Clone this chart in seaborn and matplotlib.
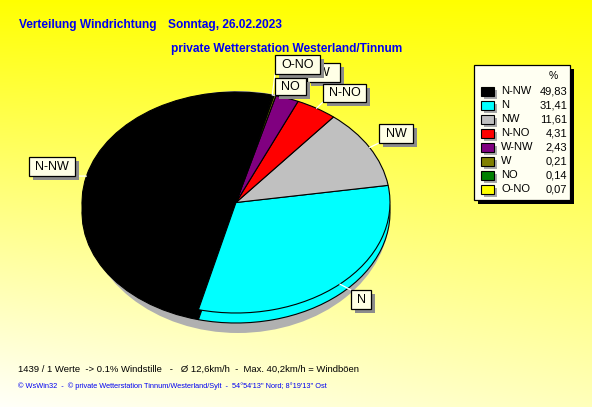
import numpy as np
import matplotlib
matplotlib.use("Agg")
import matplotlib.pyplot as plt
import seaborn as sns
from matplotlib import font_manager
from matplotlib.patches import Rectangle, Ellipse

# ---------------- data ----------------
directions = ["N-NW", "N", "NW", "N-NO", "W-NW", "W", "NO", "O-NO"]
shares = [49.83, 31.41, 11.61, 4.31, 2.43, 0.21, 0.14, 0.07]
share_labels = ["49,83", "31,41", "11,61", "4,31", "2,43", "0,21", "0,14", "0,07"]
colors = ["#000000", "#00FFFF", "#C0C0C0", "#FF0000", "#800080", "#808000", "#008000", "#FFFF00"]
title_left = "Verteilung Windrichtung"
title_date = "Sonntag, 26.02.2023"
subtitle = "private Wetterstation Westerland/Tinnum"
legend_title = "%"
info_line = "1439 / 1 Werte  -> 0.1% Windstille   -   Ø 12,6km/h  -  Max. 40,2km/h = Windböen"
credit_line = "© WsWin32  -  © private Wetterstation Tinnum/Westerland/Sylt  -  54°54'13'' Nord; 8°19'13'' Ost"

sns.set_theme(style="white")
names = {f.name for f in font_manager.fontManager.ttflist}
base = "Liberation Sans" if "Liberation Sans" in names else "DejaVu Sans"
plt.rcParams['font.family'] = [base, 'DejaVu Sans']

W, H = 592, 407
fig = plt.figure(figsize=(W / 100, H / 100), dpi=100)

# background gradient
bg = fig.add_axes([0, 0, 1, 1], zorder=0)
yy, xx = np.mgrid[0:H, 0:W]
b = np.clip(250 * (yy / H) ** 0.95 * (1 - 0.25 * xx / W), 0, 255) / 255.0
img = np.dstack([np.ones_like(b), np.ones_like(b), b])
bg.imshow(img, extent=(0, W, H, 0), aspect='auto')
bg.set_xlim(0, W); bg.set_ylim(H, 0); bg.axis('off')

# pie axes (ellipse: center 236,202.5 ; a=154 ; b=110.5 px)
cx, cy, a, bb = 236, 202.5, 154, 110.5
ytop, ybot = 1.1, -1.3
ax = fig.add_axes([(cx - a) / W, 1 - (cy - ybot * bb) / H, 2 * a / W, (ytop - ybot) * bb / H], zorder=2)
ax.patch.set_alpha(0)
depth = 10 / bb
ax.add_patch(Ellipse((2 / a, -9.5 / bb), 2 * 152 / a, 2 * 121 / bb, color="#B0B0B0", lw=0, zorder=0))
ax.pie(shares, colors=colors, startangle=76.5, counterclock=True, center=(0, -depth),
       wedgeprops=dict(edgecolor='black', linewidth=0.8))
top_wedges, _ = ax.pie(shares, colors=colors, startangle=76.5, counterclock=True, center=(0, 0),
                       wedgeprops=dict(edgecolor='black', linewidth=0.8))
ax.set_aspect('auto')
ax.set_xlim(-1, 1); ax.set_ylim(ybot, ytop)
ax.axis('off')

# overlay in pixel coordinates
ov = fig.add_axes([0, 0, 1, 1], zorder=5)
ov.set_xlim(0, W); ov.set_ylim(H, 0); ov.axis('off'); ov.patch.set_alpha(0)

label_boxes = {
    "W": (307, 63, 340, 82),
    "O-NO": (275, 55, 320, 74),
    "NO": (275, 78, 306, 95),
    "N-NO": (323, 84, 366, 102),
    "NW": (379, 124, 413, 143),
    "N": (351, 290, 371, 309),
    "N-NW": (29, 157, 75, 176),
}
inv = ov.transData.inverted()
for k, name in enumerate(label_boxes):
    x0, y0, x1, y1 = label_boxes[name]
    w = top_wedges[directions.index(name)]
    th = np.deg2rad((w.theta1 + w.theta2) / 2)
    px, py = inv.transform(ax.transData.transform((np.cos(th), np.sin(th))))
    qx, qy = min(max(px, x0), x1), min(max(py, y0), y1)
    ov.plot([px, qx], [py, qy], color="white", lw=0.9, zorder=3)
    z = 5 + 3 * k
    ov.add_patch(Rectangle((x0 + 4, y0 + 4), x1 - x0, y1 - y0, fc="#8C8C8C", ec="none", zorder=z))
    ov.add_patch(Rectangle((x0, y0), x1 - x0, y1 - y0, fc="#FFFFE6", ec="black", lw=0.9, zorder=z + 1))
    ov.text((x0 + x1) / 2, (y0 + y1) / 2 + 0.5, name, ha="center", va="center", fontsize=9,
            color="black", zorder=z + 2)

# legend
ov.add_patch(Rectangle((478, 69), 96, 135, fc="black", ec="none", zorder=40))
ov.add_patch(Rectangle((474, 65), 96, 135, fc="#FFFFF2", ec="black", lw=0.9, zorder=41))
ov.text(553, 76, legend_title, ha="center", va="center", fontsize=7.5, color="black", zorder=42)
for i, (name, val, col) in enumerate(zip(directions, share_labels, colors)):
    y = 91 + 14 * i
    ov.add_patch(Rectangle((484, y - 4.5 + 3), 13, 9, fc="#A8A8A8", ec="none", zorder=42))
    ov.add_patch(Rectangle((481, y - 4.5), 13, 9, fc=col, ec="black", lw=0.8, zorder=43))
    ov.text(501, y + 0.5, name, ha="left", va="center", fontsize=8, color="black", zorder=43)
    ov.text(567, y + 0.5, val, ha="right", va="center", fontsize=8, color="black", zorder=43)

# titles
blue = "#0000F0"
ov.text(19, 25, title_left, ha="left", va="center", fontsize=8.6, fontweight="bold", color=blue)
ov.text(168, 25, title_date, ha="left", va="center", fontsize=8.6, fontweight="bold", color=blue)
ov.text(171, 49, subtitle, ha="left", va="center", fontsize=8.6, fontweight="bold", color=blue)
ov.text(18, 369, info_line, ha="left", va="center", fontsize=6.8, color="black")
ov.text(18, 386, credit_line, ha="left", va="center", fontsize=5.3, color=blue)

fig.savefig("out.png", dpi=100)
